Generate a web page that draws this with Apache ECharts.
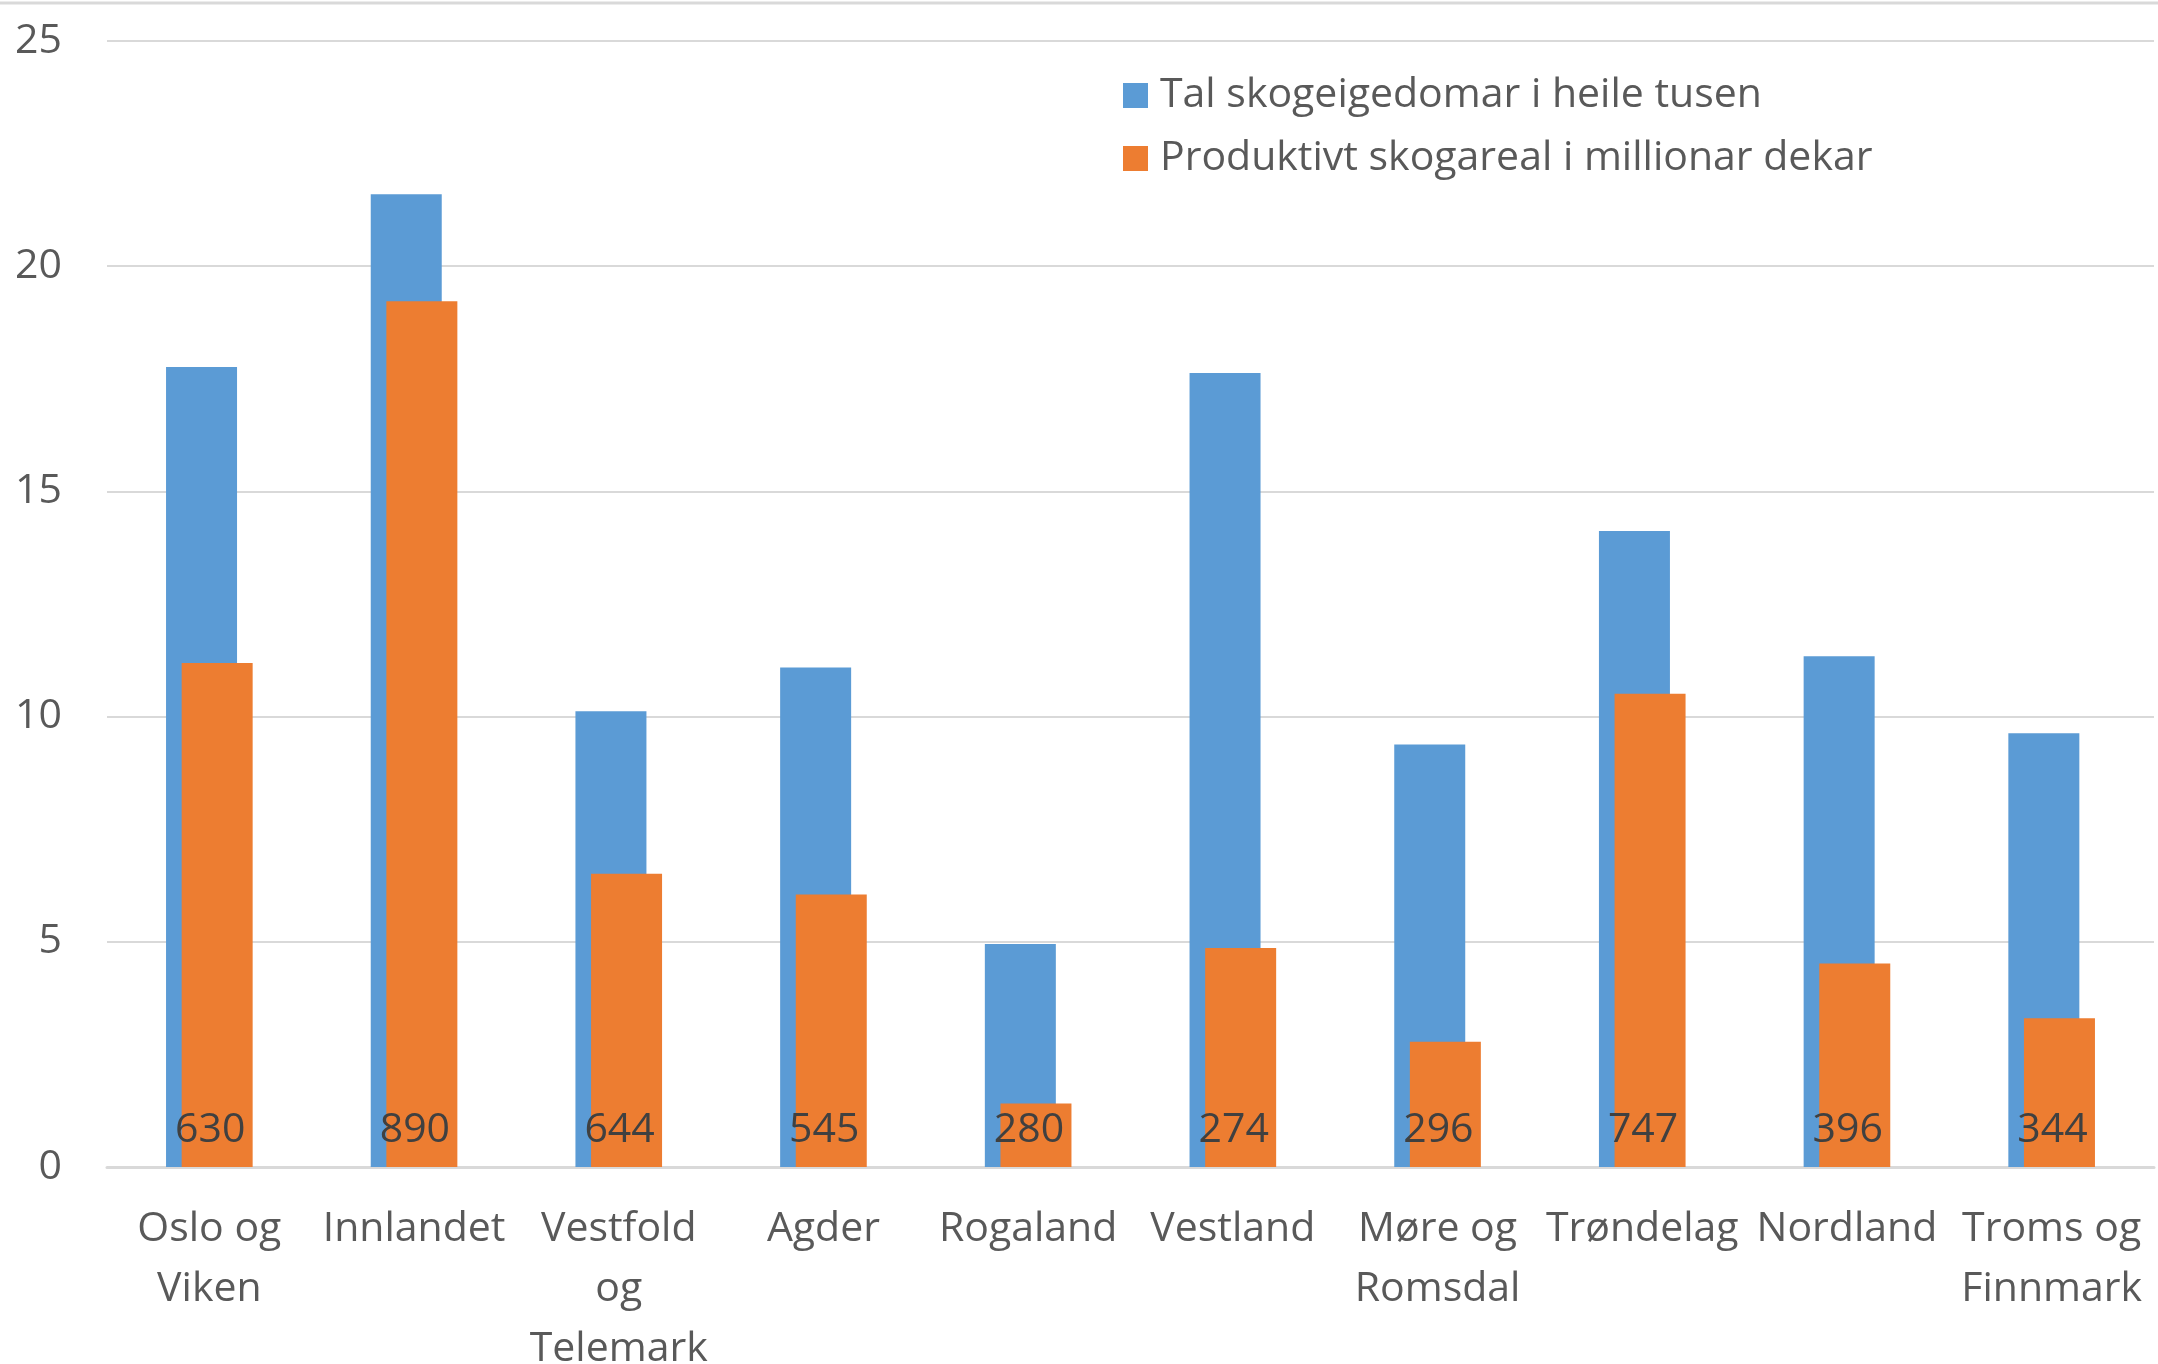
<!DOCTYPE html>
<html>
<head>
<meta charset="utf-8">
<script src="https://cdn.jsdelivr.net/npm/echarts@6/dist/echarts.min.js"></script>
<style>
	html,body{margin:0;padding:0;background:#fff;}
	#chart{width:2158px;height:1364px;}
</style>
</head>
<body>
<div id="chart"></div>
<script>
var categories = ['Oslo og\nViken','Innlandet','Vestfold\nog\nTelemark','Agder','Rogaland','Vestland','Møre og\nRomsdal','Trøndelag','Nordland','Troms og\nFinnmark'];
var eigedomar = [17.76,21.6,10.12,11.09,4.95,17.63,9.38,14.12,11.34,9.63];
var skogareal = [11.19,19.22,6.51,6.05,1.41,4.86,2.78,10.51,4.52,3.30];
var barLabels = [630,890,644,545,280,274,296,747,396,344];
var yTicks = {min:0,max:25,step:5};

var COLOR = {
	BLUE:'#5B9BD5',
	ORANGE:'#ED7D31',
	GRID:'#D9D9D9',
	TEXT:'#595959',
	LABEL:'#404040'
};
var FONT = '"Open Sans"';

var myChart = echarts.init(document.getElementById('chart'));
myChart.setOption({
	animation:false,
	grid:{
		left:107,
		right:4,
		top:41,
		bottom:197,
		outerBoundsMode:'none'
	},
	legend:{
		orient:'vertical',
		left:1118,
		top:70,
		itemWidth:25,
		itemHeight:25,
		itemGap:22,
		icon:'rect',
		textStyle:{
			color:COLOR.TEXT,
			fontFamily:FONT,
			fontSize:41,
			lineHeight:41,
			padding:[0,0,0,7]
		},
		data:['Tal skogeigedomar i heile tusen','Produktivt skogareal i millionar dekar']
	},
	//top border of the chart area
	graphic:[{
		type:'line',
		shape:{x1:0,y1:3,x2:2158,y2:3},
		style:{stroke:COLOR.GRID,lineWidth:3}
	}],
	xAxis:{
		type:'category',
		data:categories,
		axisTick:{show:false},
		axisLine:{
			show:true,
			lineStyle:{color:COLOR.GRID,width:3}
		},
		axisLabel:{
			interval:0,
			margin:32,
			color:COLOR.TEXT,
			fontFamily:FONT,
			fontSize:41,
			lineHeight:60
		}
	},
	yAxis:{
		type:'value',
		min:yTicks.min,
		max:yTicks.max,
		interval:yTicks.step,
		axisLine:{show:false},
		axisTick:{show:false},
		axisLabel:{
			margin:45,
			color:COLOR.TEXT,
			fontFamily:FONT,
			fontSize:41
		},
		splitLine:{
			lineStyle:{color:COLOR.GRID,width:2}
		}
	},
	series:[
		{
			name:'Tal skogeigedomar i heile tusen',
			type:'bar',
			barWidth:71,
			barGap:'-78%',
			itemStyle:{color:COLOR.BLUE},
			data:eigedomar
		},
		{
			name:'Produktivt skogareal i millionar dekar',
			type:'bar',
			barWidth:71,
			itemStyle:{color:COLOR.ORANGE},
			label:{
				show:true,
				position:'insideBottom',
				distance:16,
				offset:[-7,0],
				color:COLOR.LABEL,
				fontFamily:FONT,
				fontSize:41,
				lineHeight:42,
				formatter:function(p){
					return barLabels[p.dataIndex];
				}
			},
			data:skogareal
		}
	]
});
</script>
</body>
</html>
